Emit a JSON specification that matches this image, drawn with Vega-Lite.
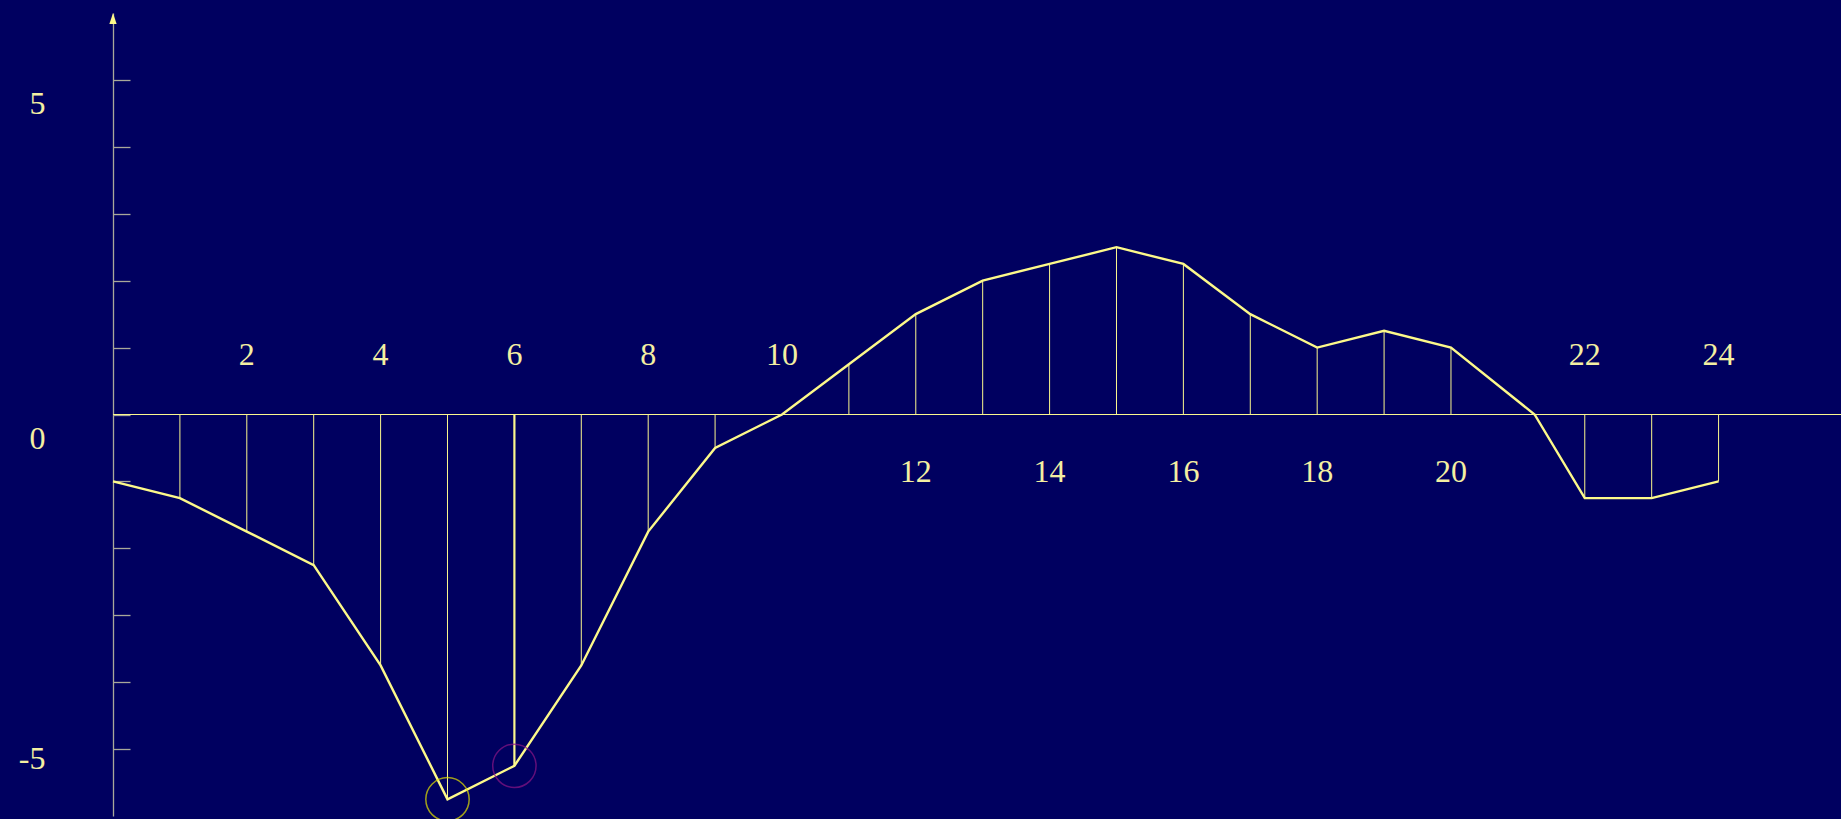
{
  "$schema": "https://vega.github.io/schema/vega-lite/v6.json",
  "autosize": {"type": "none"},
  "padding": {"left": 113, "top": 13, "right": 0, "bottom": 3},
  "width": 1728,
  "height": 803,
  "background": "#000060",
  "config": {
    "view": {"stroke": null},
    "axisY": {
      "domainColor": "#a9a89a",
      "domainWidth": 1.3,
      "tickColor": "#a9a89a",
      "tickWidth": 1.3,
      "tickSize": -17,
      "grid": false,
      "labelFont": "Liberation Serif",
      "labelFontSize": 32,
      "labelColor": "#f4efa2",
      "labelAlign": "right",
      "labelBaseline": "alphabetic",
      "labelPadding": 85,
      "title": null
    }
  },
  "datasets": {
    "series": [
      {"x": 0, "y": -1},
      {"x": 1, "y": -1.25},
      {"x": 2, "y": -1.75},
      {"x": 3, "y": -2.25},
      {"x": 4, "y": -3.75},
      {"x": 5, "y": -5.75},
      {"x": 6, "y": -5.25},
      {"x": 7, "y": -3.75},
      {"x": 8, "y": -1.75},
      {"x": 9, "y": -0.5},
      {"x": 10, "y": 0},
      {"x": 11, "y": 0.75},
      {"x": 12, "y": 1.5},
      {"x": 13, "y": 2},
      {"x": 14, "y": 2.25},
      {"x": 15, "y": 2.5},
      {"x": 16, "y": 2.25},
      {"x": 17, "y": 1.5},
      {"x": 18, "y": 1},
      {"x": 19, "y": 1.25},
      {"x": 20, "y": 1},
      {"x": 21.25, "y": 0},
      {"x": 22, "y": -1.25},
      {"x": 23, "y": -1.25},
      {"x": 24, "y": -1}
    ],
    "rings": [
      {"x": 5, "y": -5.75, "ring": "minimum"},
      {"x": 6, "y": -5.25, "ring": "next"}
    ]
  },
  "layer": [
    {
      "data": {"name": "series"},
      "mark": {"type": "line", "color": "#fdf98a", "strokeWidth": 2.4},
      "encoding": {
        "x": {"field": "x", "type": "quantitative", "scale": {"domain": [0, 25.83], "nice": false, "zero": false}, "axis": null},
        "y": {"field": "y", "type": "quantitative", "scale": {"domain": [-6, 6], "nice": false, "zero": false},
              "axis": {"values": [-5, -4, -3, -2, -1, 0, 1, 2, 3, 4, 5],
                       "labelExpr": "datum.value % 5 === 0 ? '' + datum.value : ''",
                       "labelOffset": {"expr": "datum.value < 0 ? 19 : 34"}}}
      }
    },
    {
      "data": {"name": "series"},
      "mark": {"type": "rule", "color": "#fbf78e", "strokeWidth": 1.2},
      "encoding": {
        "y": {"datum": 0, "type": "quantitative"}
      }
    },
    {
      "data": {"name": "series"},
      "transform": [{"filter": "datum.x > 0"}],
      "mark": {"type": "rule", "color": "#fbf78e"},
      "encoding": {
        "x": {"field": "x", "type": "quantitative"},
        "y": {"field": "y", "type": "quantitative"},
        "y2": {"datum": 0},
        "strokeWidth": {"condition": {"test": "datum.x === 6", "value": 2.2}, "value": 1}
      }
    },
    {
      "data": {"name": "rings"},
      "mark": {"type": "point", "filled": false, "size": 1880, "strokeWidth": 1.5},
      "encoding": {
        "x": {"field": "x", "type": "quantitative"},
        "y": {"field": "y", "type": "quantitative"},
        "stroke": {"field": "ring", "type": "nominal",
                   "scale": {"domain": ["minimum", "next"], "range": ["#e4e200", "#8c1686"]},
                   "legend": null}
      }
    },
    {
      "data": {"values": [{"tip": 6}]},
      "mark": {"type": "point", "shape": "M0,0L-0.33,1L0.33,1Z", "filled": true, "size": 484, "color": "#fdf98a", "opacity": 1},
      "encoding": {
        "x": {"datum": 0, "type": "quantitative"},
        "y": {"field": "tip", "type": "quantitative"}
      }
    },
    {
      "data": {"name": "series"},
      "transform": [{"filter": "datum.x > 0 && datum.x % 2 === 0 && datum.y <= 0"}],
      "mark": {"type": "text", "font": "Liberation Serif", "fontSize": 32, "color": "#f4efa2", "baseline": "alphabetic", "dy": -50},
      "encoding": {
        "x": {"field": "x", "type": "quantitative"},
        "y": {"datum": 0, "type": "quantitative"},
        "text": {"field": "x", "type": "quantitative", "format": "d"}
      }
    },
    {
      "data": {"name": "series"},
      "transform": [{"filter": "datum.x > 0 && datum.x % 2 === 0 && datum.y > 0"}],
      "mark": {"type": "text", "font": "Liberation Serif", "fontSize": 32, "color": "#f4efa2", "baseline": "alphabetic", "dy": 67},
      "encoding": {
        "x": {"field": "x", "type": "quantitative"},
        "y": {"datum": 0, "type": "quantitative"},
        "text": {"field": "x", "type": "quantitative", "format": "d"}
      }
    }
  ]
}
